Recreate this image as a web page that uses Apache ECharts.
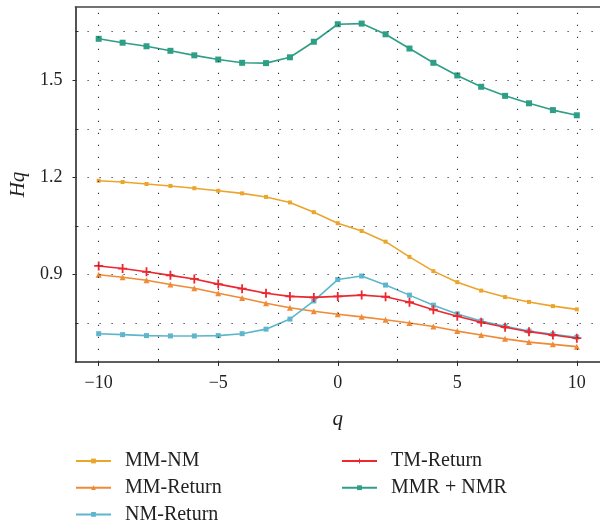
<!DOCTYPE html>
<html><head><meta charset="utf-8">
<script src="https://cdn.jsdelivr.net/npm/echarts@6/dist/echarts.min.js"></script>
<style>html,body{margin:0;padding:0;background:#fff}#c{width:600px;height:523px}</style>
</head><body><div id="c"></div>
<script>
const qValues = [-10,-9,-8,-7,-6,-5,-4,-3,-2,-1,0,1,2,3,4,5,6,7,8,9,10];
const mmNm =     [1.190,1.186,1.180,1.174,1.167,1.159,1.151,1.140,1.123,1.093,1.059,1.035,1.002,0.955,0.911,0.877,0.851,0.831,0.816,0.803,0.793];
const mmReturn = [0.900,0.892,0.883,0.870,0.858,0.843,0.828,0.812,0.798,0.787,0.778,0.770,0.761,0.751,0.740,0.726,0.714,0.702,0.692,0.685,0.678];
const nmReturn = [0.718,0.715,0.712,0.711,0.711,0.712,0.718,0.732,0.763,0.819,0.885,0.896,0.868,0.837,0.806,0.779,0.757,0.741,0.726,0.716,0.707];
const tmReturn = [0.927,0.919,0.909,0.898,0.887,0.871,0.857,0.843,0.833,0.830,0.833,0.837,0.832,0.815,0.792,0.772,0.753,0.738,0.724,0.714,0.704];
const mmrNmr =   [1.628,1.616,1.605,1.591,1.577,1.564,1.554,1.553,1.571,1.619,1.673,1.675,1.642,1.598,1.554,1.515,1.480,1.452,1.429,1.408,1.392];

const xTickLabels = [-10,-5,0,5,10];
const xMinorTicks = [-7.5,-2.5,2.5,7.5];
const yTickLabels = [0.9,1.2,1.5];
const yMinorTicks = [0.75,1.05,1.35,1.65];
const xGrid = [-10,-7.5,-5,-2.5,0,2.5,5,7.5,10];
const yGrid = [0.75,0.9,1.05,1.2,1.35,1.5,1.65];

const X_MIN = -10.97, X_MAX = 10.97, Y_MIN = 0.6306, Y_MAX = 1.7262;
const serif = 'Liberation Serif';
const axisColor = '#2a2a2a';

function mk(vals){ return qValues.map((q,i)=>[q, vals[i]]); }
const plusPath = 'path://M4,0 h2 v4 h4 v2 h-4 v4 h-2 v-4 h-4 v-2 h4 z';

const chart = echarts.init(document.getElementById('c'), null, {renderer:'canvas'});
const baseX = {type:'value', min:X_MIN, max:X_MAX, gridIndex:0, splitLine:{show:false}};
const baseY = {type:'value', min:Y_MIN, max:Y_MAX, gridIndex:0, splitLine:{show:false}};
const dotted = {color:'#333', width:1.1, type:[1.2,10.8]};

chart.setOption({
  animation:false,
  backgroundColor:'#fff',
  grid:{left:75.5, top:7, width:526.5, height:355},
  xAxis:[
    Object.assign({}, baseX, {
      position:'bottom',
      axisLine:{show:true, onZero:false, lineStyle:{color:axisColor, width:1.6}},
      axisTick:{show:true, inside:false, length:4, customValues:xTickLabels, lineStyle:{color:axisColor, width:1}},
      axisLabel:{show:true, customValues:xTickLabels, margin:12, fontFamily:serif, fontSize:18, color:'#222',
        formatter:v=>String(v).replace('-', '\u2212')},
      name:'q', nameLocation:'middle', nameGap:47,
      nameTextStyle:{fontFamily:serif, fontStyle:'italic', fontSize:21, color:'#222'}
    }),
    Object.assign({}, baseX, {
      position:'bottom',
      axisLine:{show:false, onZero:false},
      axisTick:{show:true, inside:true, length:3, customValues:xMinorTicks, lineStyle:{color:axisColor, width:1}},
      axisLabel:{show:false}
    }),
    Object.assign({}, baseX, {
      position:'top',
      axisLine:{show:true, onZero:false, lineStyle:{color:'#444', width:1.6}},
      axisTick:{show:false}, axisLabel:{show:false}
    })
  ],
  yAxis:[
    Object.assign({}, baseY, {
      position:'left',
      axisLine:{show:true, onZero:false, lineStyle:{color:axisColor, width:1.6}},
      axisTick:{show:true, inside:false, length:3, customValues:yTickLabels, lineStyle:{color:axisColor, width:1}},
      axisLabel:{show:true, customValues:yTickLabels, margin:13, fontFamily:serif, fontSize:18, color:'#222',
        formatter:v=>v.toFixed(1)},
      name:'Hq', nameLocation:'middle', nameGap:46, nameRotate:90,
      nameTextStyle:{fontFamily:serif, fontStyle:'italic', fontSize:21, color:'#222'}
    }),
    Object.assign({}, baseY, {
      position:'left',
      axisLine:{show:false, onZero:false},
      axisTick:{show:true, inside:true, length:3, customValues:yMinorTicks, lineStyle:{color:axisColor, width:1}},
      axisLabel:{show:false}
    })
  ],
  legend:[
    {data:['MM-NM','MM-Return','NM-Return'], orient:'vertical', left:75, top:451, height:90,
     itemWidth:35, itemHeight:6, itemGap:6.7, padding:0,
     textStyle:{fontFamily:serif, fontSize:20, color:'#222', lineHeight:20, padding:[0,0,0,9]}},
    {data:['TM-Return','MMR + NMR'], orient:'vertical', left:341, top:451, height:90,
     itemWidth:35, itemHeight:6, itemGap:6.7, padding:0,
     textStyle:{fontFamily:serif, fontSize:20, color:'#222', lineHeight:20, padding:[0,0,0,9]}}
  ],
  series:[
    {type:'line', name:'grid', data:[], silent:true, z:0,
     markLine:{silent:true, symbol:['none','none'], label:{show:false}, lineStyle:dotted, animation:false,
       emphasis:{disabled:true},
       data: xGrid.map(v=>({xAxis:v})).concat(yGrid.map(v=>({yAxis:v})))}},
    {type:'line', name:'MM-NM', data:mk(mmNm), color:'#EBA52C', symbol:'rect', symbolSize:4,
     lineStyle:{width:1.6}, z:3},
    {type:'line', name:'MM-Return', data:mk(mmReturn), color:'#F08A35', symbol:'triangle', symbolSize:6,
     lineStyle:{width:1.6}, z:3},
    {type:'line', name:'NM-Return', data:mk(nmReturn), color:'#5EB6CE', symbol:'rect', symbolSize:5,
     lineStyle:{width:1.6}, z:3},
    {type:'line', name:'TM-Return', data:mk(tmReturn), color:'#EC2730', symbol:plusPath, symbolSize:9,
     lineStyle:{width:1.6}, z:4},
    {type:'line', name:'MMR + NMR', data:mk(mmrNmr), color:'#2E9E86', symbol:'rect', symbolSize:6,
     lineStyle:{width:1.6}, z:3}
  ]
});
</script></body></html>
